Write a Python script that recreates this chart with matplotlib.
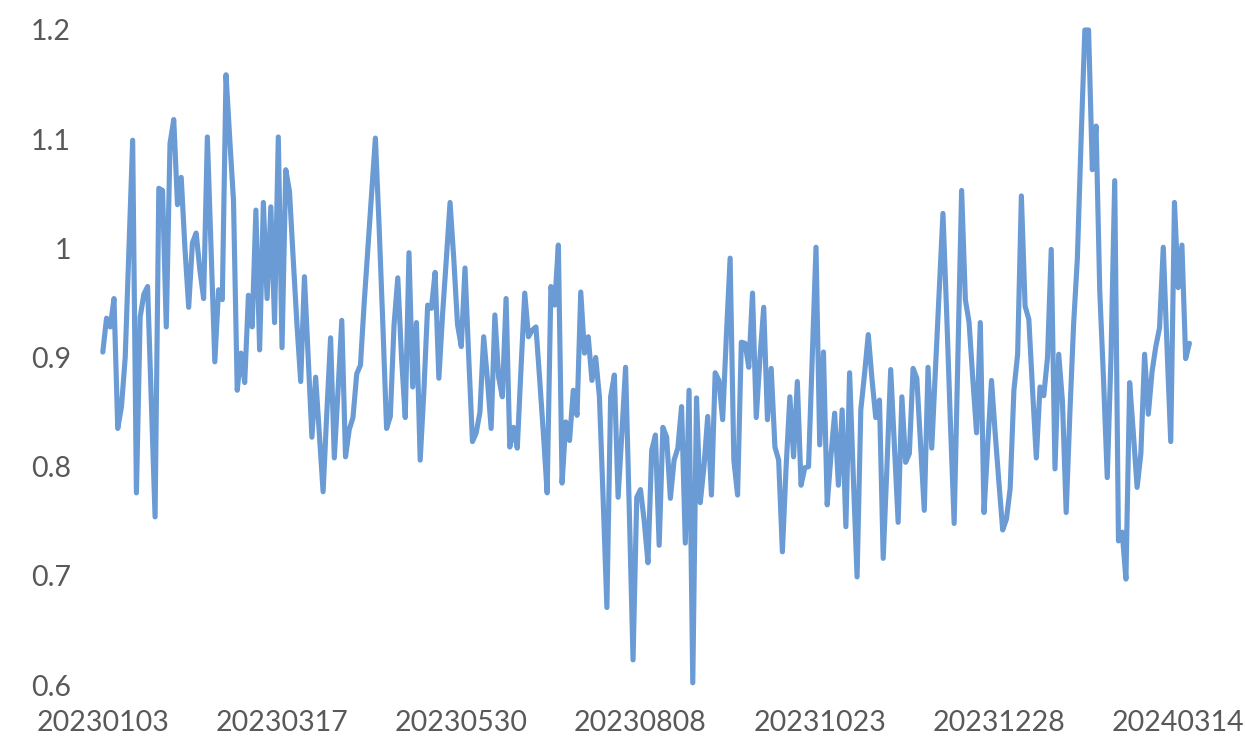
import matplotlib
matplotlib.use("Agg")
import matplotlib.pyplot as plt

values = [
    0.905, 0.936, 0.928, 0.954, 0.835, 0.855, 0.900, 1.000, 1.099, 0.776,
    0.937, 0.958, 0.965, 0.860, 0.754, 1.055, 1.053, 0.928, 1.096, 1.118,
    1.040, 1.065, 1.000, 0.946, 1.005, 1.014, 0.980, 0.954, 1.102, 1.000,
    0.896, 0.962, 0.953, 1.159, 1.100, 1.044, 0.870, 0.904, 0.877, 0.957,
    0.928, 1.035, 0.907, 1.042, 0.954, 1.038, 0.932, 1.102, 0.909, 1.072,
    1.052, 0.990, 0.930, 0.878, 0.974, 0.900, 0.827, 0.882, 0.830, 0.777,
    0.850, 0.918, 0.808, 0.870, 0.934, 0.809, 0.834, 0.845, 0.885, 0.893,
    0.950, 1.000, 1.050, 1.101, 1.020, 0.930, 0.835, 0.846, 0.930, 0.973,
    0.900, 0.845, 0.996, 0.873, 0.932, 0.806, 0.870, 0.948, 0.945, 0.978,
    0.881, 0.940, 0.990, 1.042, 0.990, 0.930, 0.910, 0.982, 0.900, 0.823,
    0.831, 0.850, 0.919, 0.880, 0.835, 0.939, 0.882, 0.864, 0.954, 0.818,
    0.836, 0.817, 0.890, 0.959, 0.919, 0.925, 0.928, 0.880, 0.830, 0.776,
    0.965, 0.948, 1.003, 0.785, 0.841, 0.824, 0.870, 0.847, 0.960, 0.904,
    0.919, 0.879, 0.900, 0.864, 0.770, 0.671, 0.864, 0.884, 0.772, 0.830,
    0.891, 0.760, 0.623, 0.772, 0.779, 0.750, 0.712, 0.815, 0.829, 0.728,
    0.836, 0.827, 0.771, 0.806, 0.817, 0.855, 0.730, 0.870, 0.602, 0.863,
    0.767, 0.800, 0.846, 0.774, 0.886, 0.879, 0.843, 0.920, 0.991, 0.806,
    0.774, 0.914, 0.913, 0.891, 0.959, 0.845, 0.900, 0.946, 0.843, 0.890,
    0.818, 0.806, 0.722, 0.800, 0.864, 0.809, 0.878, 0.783, 0.799, 0.800,
    0.900, 1.001, 0.820, 0.905, 0.765, 0.810, 0.849, 0.783, 0.852, 0.745,
    0.886, 0.790, 0.699, 0.852, 0.885, 0.921, 0.880, 0.845, 0.861, 0.716,
    0.800, 0.889, 0.820, 0.749, 0.864, 0.804, 0.812, 0.890, 0.881, 0.820,
    0.760, 0.891, 0.817, 0.890, 0.960, 1.032, 0.940, 0.840, 0.748, 0.900,
    1.053, 0.953, 0.932, 0.880, 0.831, 0.932, 0.758, 0.820, 0.879, 0.830,
    0.785, 0.742, 0.752, 0.780, 0.870, 0.903, 1.048, 0.947, 0.935, 0.870,
    0.808, 0.873, 0.865, 0.900, 0.999, 0.798, 0.903, 0.860, 0.758, 0.850,
    0.931, 0.991, 1.100, 1.200, 1.200, 1.072, 1.112, 0.960, 0.880, 0.790,
    0.900, 1.062, 0.732, 0.740, 0.697, 0.877, 0.830, 0.781, 0.812, 0.903,
    0.848, 0.887, 0.910, 0.927, 1.001, 0.910, 0.823, 1.042, 0.964, 1.003,
    0.899, 0.913,
]

tick_positions = [0, 48, 96, 144, 192, 240, 288]
tick_labels = ["20230103", "20230317", "20230530", "20230808",
               "20231023", "20231228", "20240314"]
y_ticks = [0.6, 0.7, 0.8, 0.9, 1.0, 1.1, 1.2]
y_labels = ["0.6", "0.7", "0.8", "0.9", "1", "1.1", "1.2"]

plt.rcParams["font.family"] = ["Lato", "DejaVu Sans"]

W, H = 1245, 753
fig = plt.figure(figsize=(W / 100, H / 100), dpi=100)
x0, x1 = 102.8, 1189.4
ytop, ybot = 30, 685
ax = fig.add_axes([x0 / W, (H - ybot) / H, (x1 - x0) / W, (ybot - ytop) / H])

ax.plot(range(len(values)), values, color="#6A9BD4", lw=3.7,
        solid_joinstyle="round", solid_capstyle="round", clip_on=False)

ax.set_xlim(0, len(values) - 1)
ax.set_ylim(0.6, 1.2)
ax.set_xticks(tick_positions)
ax.set_xticklabels(tick_labels)
ax.set_yticks(y_ticks)
ax.set_yticklabels(y_labels)
for s in ax.spines.values():
    s.set_visible(False)
ax.tick_params(axis="both", length=0, labelsize=20.5, labelcolor="#595959")
ax.tick_params(axis="x", pad=18)
ax.tick_params(axis="y", pad=23)

fig.savefig("out.png", dpi=100)
